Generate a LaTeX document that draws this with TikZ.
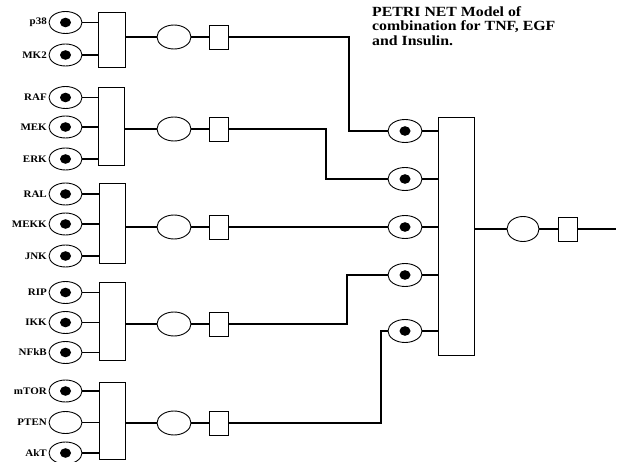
\documentclass[tikz,border=0pt]{standalone}
\usepackage{fontspec}
\setmainfont{Liberation Serif}
\usetikzlibrary{shapes.geometric}
\begin{document}
\begin{tikzpicture}[x=1pt,y=-1pt,
  place/.style={ellipse,draw,line width=0.9pt,minimum width=33pt,minimum height=22pt,inner sep=0pt},
  oplace/.style={ellipse,draw,line width=0.9pt,minimum width=34pt,minimum height=24pt,inner sep=0pt},
  tok/.style={path picture={\fill (path picture bounding box.center) ellipse (5.5pt and 4.8pt);}},
  bar/.style={rectangle,draw,line width=0.9pt,minimum width=26pt,inner sep=0pt},
  trans/.style={rectangle,draw,line width=0.9pt,minimum width=19pt,minimum height=24pt,inner sep=0pt},
  arc/.style={line width=1.6pt},
  lab/.style={anchor=east,inner sep=0pt,font=\bfseries\fontsize{10}{10}\selectfont}
]
\useasboundingbox (0,0) rectangle (621,462);

% title
\node[anchor=north west,inner sep=0pt,align=left,font=\bfseries\fontsize{14}{14.5}\selectfont] (title) at (372,6)
 {\scalebox{1.13}[1]{PETRI NET Model of}\\\scalebox{1.13}[1]{combination for TNF, EGF}\\\scalebox{1.13}[1]{and Insulin.}};

% ---- input places
\foreach \n/\t/\y/\k in {p38/p38/22.5/tok, MK2/MK2/55/tok,
  RAF/RAF/97.5/tok, MEK/MEK/127/tok, ERK/ERK/159/tok,
  RAL/RAL/194/tok, MEKK/MEKK/224/tok, JNK/JNK/256/tok,
  RIP/RIP/292.5/tok, IKK/IKK/322.5/tok, NFkB/NFkB/352.5/tok,
  mTOR/mTOR/391/tok, PTEN/PTEN/422.5/, AkT/AkT/453/tok}{
  \node[place,\k] (\n) at (65.5,\y) {};
  \node[lab] (l\n) at (47,\y) {\scalebox{1.1}[1]{\t}};
}

% ---- input transitions (bars)
\node[bar,minimum width=27pt,minimum height=55pt] (t1) at (111.5,39.5) {};
\node[bar,minimum height=78pt] (t2) at (111.5,126) {};
\node[bar,minimum height=80pt] (t3) at (112,223) {};
\node[bar,minimum height=78pt] (t4) at (112,321) {};
\node[bar,minimum height=77pt] (t5) at (112.5,420.5) {};

\foreach \p/\t in {p38/t1,MK2/t1,RAF/t2,MEK/t2,ERK/t2,RAL/t3,MEKK/t3,JNK/t3,RIP/t4,IKK/t4,NFkB/t4,mTOR/t5,PTEN/t5,AkT/t5}
  \draw[arc] (\p.east) -- (\t.west |- \p.east);

% ---- intermediate places and transitions
\foreach \i/\y in {1/37,2/129,3/227,4/324,5/423}{
  \node[oplace] (o\i) at (174,\y) {};
  \node[trans] (r\i) at (218.5,\y) {};
  \draw[arc] (t\i.east |- o\i.west) -- (o\i.west);
  \draw[arc] (o\i.east) -- (r\i.west);
}

% ---- collecting places
\foreach \i/\y in {1/131,2/179,3/227,4/275,5/331}
  \node[oplace,tok,minimum height=23pt] (q\i) at (405,\y) {};

\node[bar,minimum width=36pt,minimum height=238pt] (B) at (456,236) {};
\foreach \i in {1,...,5}
  \draw[arc] (q\i.east) -- (B.west |- q\i.east);

% routes
\coordinate (k1) at (349,37);
\coordinate (k2) at (326,129);
\coordinate (k4) at (347,324);
\coordinate (k5) at (381,423);
\draw[arc] (r1.east) -- (k1) |- (q1.west);
\draw[arc] (r2.east) -- (k2) |- (q2.west);
\draw[arc] (r3.east) -- (q3.west);
\draw[arc] (r4.east) -- (k4) |- (q4.west);
\draw[arc] (r5.east) -- (k5) |- (q5.west);

% ---- output
\node[oplace,minimum width=32pt,minimum height=25pt] (o6) at (523,229) {};
\node[trans] (r6) at (567.5,229) {};
\coordinate (end) at (616,229);
\draw[arc] (B.east |- o6.west) -- (o6.west);
\draw[arc] (o6.east) -- (r6.west);
\draw[arc] (r6.east) -- (end);
\end{tikzpicture}
\end{document}
